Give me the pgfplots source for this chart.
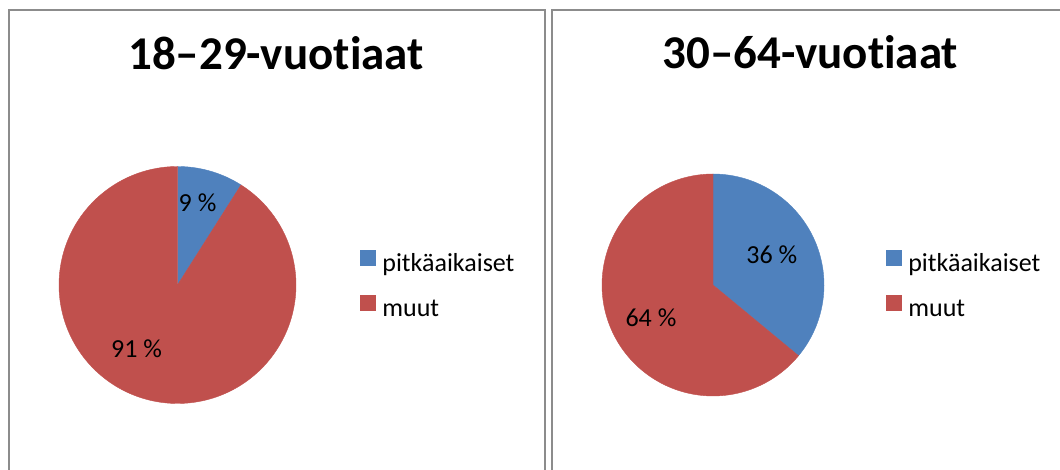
\documentclass[border=0pt]{standalone}
\usepackage{fontspec}
\setmainfont{Carlito}[Ligatures={TeX,NoCommon}]
\usepackage{pgfplots}
\pgfplotsset{compat=1.18}
\definecolor{pieblue}{RGB}{79,129,189}
\definecolor{piered}{RGB}{192,80,77}
\definecolor{framegray}{RGB}{140,140,140}
\tikzset{lbl/.style={font=\fontsize{26}{30}\selectfont, anchor=base, inner sep=0pt}}
\pgfplotsset{
  pie/.style={
    scale only axis, hide axis, clip=false,
    xmin=-1, xmax=1, ymin=-1, ymax=1,
    anchor=center,
    title style={font=\bfseries\fontsize{47}{56}\selectfont, anchor=base},
    legend style={draw=none, fill=none, inner sep=0pt, outer sep=0pt,
      anchor=north west, font=\fontsize{26}{30}\selectfont,
      nodes={inner sep=0pt, text height=18pt, text depth=6pt},
      column sep=7pt, row sep=18pt, cells={anchor=west}},
    legend image code/.code={\fill[##1] (0pt,0pt) rectangle (15pt,15pt);},
  },
}
\begin{document}
\begin{tikzpicture}
\useasboundingbox (0,0) rectangle (1060pt,470pt);
% panel frames
\draw[framegray, line width=2pt] (8.5pt,-20pt) -- (8.5pt,460pt) -- (544.7pt,460pt) -- (544.7pt,-20pt);
\draw[framegray, line width=2pt] (552pt,-20pt) -- (552pt,460pt) -- (1088pt,460pt) -- (1088pt,-20pt);
% left pie: pitkaaikaiset 9, muut 91
\begin{axis}[pie, at={(177.5pt,185pt)}, width=237pt, height=237pt,
  title={18–29-vuotiaat}, title style={at={(0.9156,1.386)}},
  legend style={at={(1.270,0.6477)}}]
\addplot[fill=pieblue, draw=pieblue, domain={90-3.6*9}:90, samples=60, variable=\t]
  ({cos(\t)},{sin(\t)}) -- (0,0) -- cycle;
\addlegendentry{pitkäaikaiset}
\addplot[fill=piered, draw=piered, domain={90-3.6*100}:{90-3.6*9}, samples=200, variable=\t]
  ({cos(\t)},{sin(\t)}) -- (0,0) -- cycle;
\addlegendentry{muut}
\node[lbl] at (axis cs:0.169,0.616) {9 \%};
\node[lbl] at (axis cs:-0.346,-0.608) {91 \%};
\end{axis}
% right pie: pitkaaikaiset 36, muut 64
\begin{axis}[pie, at={(713pt,185pt)}, width=222pt, height=222pt,
  title={30–64-vuotiaat}, title style={at={(0.9385,1.446)}},
  legend style={at={(1.279,0.6577)}}]
\addplot[fill=pieblue, draw=pieblue, domain={90-3.6*36}:90, samples=100, variable=\t]
  ({cos(\t)},{sin(\t)}) -- (0,0) -- cycle;
\addlegendentry{pitkäaikaiset}
\addplot[fill=piered, draw=piered, domain={90-3.6*100}:{90-3.6*36}, samples=160, variable=\t]
  ({cos(\t)},{sin(\t)}) -- (0,0) -- cycle;
\addlegendentry{muut}
\node[lbl] at (axis cs:0.53,0.198) {36 \%};
\node[lbl] at (axis cs:-0.559,-0.376) {64 \%};
\end{axis}
\end{tikzpicture}
\end{document}
